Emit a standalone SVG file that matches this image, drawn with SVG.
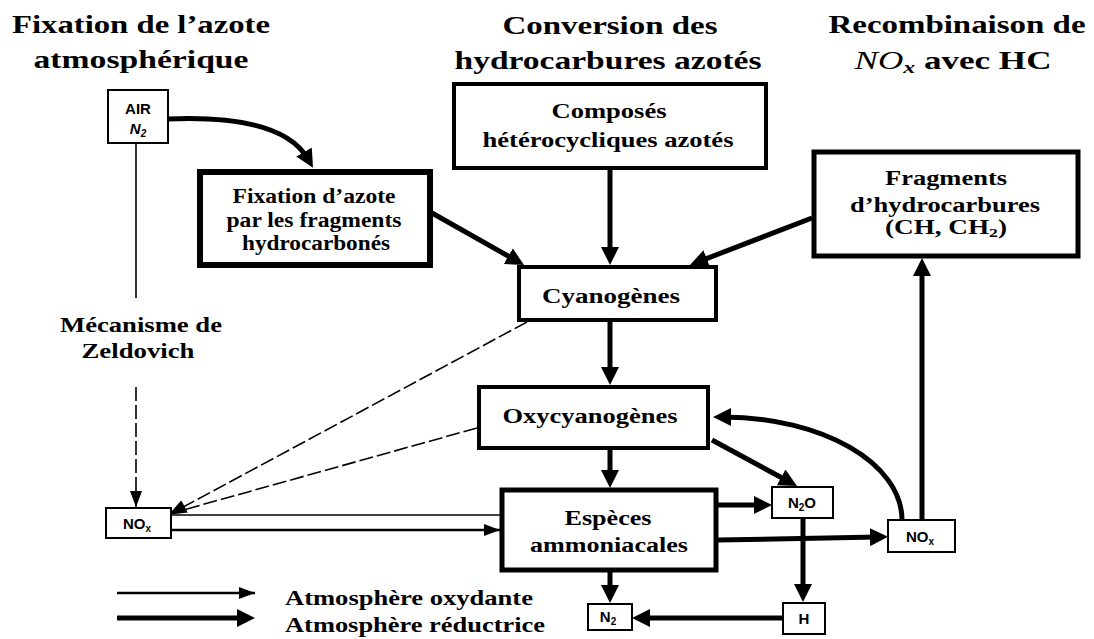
<svg xmlns="http://www.w3.org/2000/svg" width="1094" height="639" viewBox="0 0 1094 639">
<style>
.title{font-family:"Liberation Serif",serif;font-weight:bold;font-size:25px;fill:#000}
.lbl{font-family:"Liberation Serif",serif;font-weight:bold;font-size:20px;fill:#000}
.sm{font-family:"Liberation Sans",Arial,sans-serif;font-weight:bold;font-size:15px;fill:#000}
.box{fill:#fff;stroke:#000}
.thick{fill:none;stroke:#000;stroke-width:5}
.thin{fill:none;stroke:#000;stroke-width:1.6}
.dash{fill:none;stroke:#000;stroke-width:1.6;stroke-dasharray:14 4}
.med{fill:none;stroke:#000;stroke-width:2.5}
</style>
<defs>
<marker id="big" markerUnits="userSpaceOnUse" markerWidth="20" markerHeight="18" refX="8" refY="9" orient="auto">
<path d="M0,0 L18,9 L0,18 z" fill="#000"/>
</marker>
<marker id="small" markerUnits="userSpaceOnUse" markerWidth="18" markerHeight="14" refX="16" refY="6" orient="auto">
<path d="M0,0 L16,6 L0,12 z" fill="#000"/>
</marker>
<marker id="mid" markerUnits="userSpaceOnUse" markerWidth="20" markerHeight="16" refX="12" refY="7" orient="auto">
<path d="M0,0 L18,7 L0,14 z" fill="#000"/>
</marker>
</defs>
<rect width="1094" height="639" fill="#fff"/>

<g id="titles">
<text class="title" x="141" y="33" text-anchor="middle" textLength="258" lengthAdjust="spacingAndGlyphs">Fixation de l’azote</text>
<text class="title" x="141" y="68" text-anchor="middle" textLength="215" lengthAdjust="spacingAndGlyphs">atmosphérique</text>
<text class="title" x="610" y="34" text-anchor="middle" textLength="215" lengthAdjust="spacingAndGlyphs">Conversion des</text>
<text class="title" x="608" y="69" text-anchor="middle" textLength="307" lengthAdjust="spacingAndGlyphs">hydrocarbures azotés</text>
<text class="title" x="957" y="33" text-anchor="middle" textLength="257" lengthAdjust="spacingAndGlyphs">Recombinaison de</text>
<text class="title" x="953" y="69" text-anchor="middle" textLength="197" lengthAdjust="spacingAndGlyphs"><tspan font-style="italic" font-weight="normal">NO</tspan><tspan font-style="italic" font-size="17" dy="4">x</tspan><tspan dy="-4"> avec HC</tspan></text>
</g>

<g id="connectors">
<path class="thick" d="M168,119 C240,116 290,128 308,159" marker-end="url(#big)"/>
<path class="thick" d="M432,213 L515.3,260.1" marker-end="url(#big)"/>
<path class="thick" d="M610,170 L610,255" marker-end="url(#big)"/>
<path class="thick" d="M812,218 L699.3,261.4" marker-end="url(#big)"/>
<path class="thick" d="M610,322 L610,375" marker-end="url(#big)"/>
<path class="thick" d="M610,450 L610,478" marker-end="url(#big)"/>
<path class="thick" d="M610,572 L610,593" marker-end="url(#big)"/>
<path class="thick" d="M718,505 L762,505" marker-end="url(#big)"/>
<path class="thick" d="M712,440 L788.2,481.2" marker-end="url(#big)"/>
<path class="thick" d="M902,520 C902,463 822,417 723,417" marker-end="url(#big)"/>
<path class="thick" d="M922,520 L922,268" marker-end="url(#big)"/>
<path class="thick" d="M718,540 L878,537" marker-end="url(#big)"/>
<path class="thick" d="M803,518 L803,592" marker-end="url(#big)"/>
<path class="thick" d="M783,618 L642,618" marker-end="url(#big)"/>
<path class="thin" d="M136,143 L136,298"/>
<path class="dash" d="M136,387 L136,507" marker-end="url(#small)"/>
<path class="dash" d="M527,322 L174,512" marker-end="url(#mid)"/>
<path class="dash" d="M477,428 L176,512"/>
<path class="thin" d="M500,515 L171,515"/>
<path class="med" d="M171,530 L500,530" marker-end="url(#small)"/>
</g>

<g id="node-air">
<rect class="box" x="108" y="90" width="60" height="53" stroke-width="2"/>
<text class="sm" x="138" y="114" text-anchor="middle">AIR</text>
<text class="sm" x="138" y="134" text-anchor="middle" font-style="italic">N<tspan font-size="10" dy="3">2</tspan></text>
</g>

<g id="node-fixation">
<rect class="box" x="200" y="172" width="230" height="93" stroke-width="6"/>
<text class="lbl" x="314" y="203" text-anchor="middle" font-size="18" textLength="163" lengthAdjust="spacingAndGlyphs">Fixation d’azote</text>
<text class="lbl" x="314" y="227" text-anchor="middle" font-size="18" textLength="175" lengthAdjust="spacingAndGlyphs">par les fragments</text>
<text class="lbl" x="316" y="250" text-anchor="middle" font-size="18" textLength="148" lengthAdjust="spacingAndGlyphs">hydrocarbonés</text>
</g>

<g id="node-composes">
<rect class="box" x="454" y="84" width="312" height="84" stroke-width="4"/>
<text class="lbl" x="609" y="118" text-anchor="middle" textLength="115" lengthAdjust="spacingAndGlyphs">Composés</text>
<text class="lbl" x="608" y="147" text-anchor="middle" textLength="251" lengthAdjust="spacingAndGlyphs">hétérocycliques azotés</text>
</g>

<g id="node-fragments">
<rect class="box" x="814" y="152" width="264" height="104" stroke-width="5"/>
<text class="lbl" x="946" y="185" text-anchor="middle" textLength="122" lengthAdjust="spacingAndGlyphs">Fragments</text>
<text class="lbl" x="945" y="212" text-anchor="middle" textLength="190" lengthAdjust="spacingAndGlyphs">d’hydrocarbures</text>
<text class="lbl" x="946" y="234" text-anchor="middle" textLength="122" lengthAdjust="spacingAndGlyphs">(CH, CH<tspan font-size="13" dy="3">2</tspan><tspan dy="-3">)</tspan></text>
</g>

<g id="node-cyanogenes">
<rect class="box" x="519" y="267" width="197" height="53" stroke-width="4"/>
<text class="lbl" x="611" y="303" text-anchor="middle" textLength="138" lengthAdjust="spacingAndGlyphs">Cyanogènes</text>
</g>

<g id="node-oxycyanogenes">
<rect class="box" x="479" y="387" width="229" height="61" stroke-width="4"/>
<text class="lbl" x="590" y="423" text-anchor="middle" textLength="175" lengthAdjust="spacingAndGlyphs">Oxycyanogènes</text>
</g>

<g id="node-especes">
<rect class="box" x="502" y="490" width="214" height="80" stroke-width="5"/>
<text class="lbl" x="608" y="525" text-anchor="middle" textLength="87" lengthAdjust="spacingAndGlyphs">Espèces</text>
<text class="lbl" x="609" y="552" text-anchor="middle" textLength="158" lengthAdjust="spacingAndGlyphs">ammoniacales</text>
</g>

<g id="node-nox-left">
<rect class="box" x="106" y="508" width="65" height="30" stroke-width="2"/>
<text class="sm" x="137" y="529" text-anchor="middle">NO<tspan font-size="10" dy="3">x</tspan></text>
</g>

<g id="node-n2o">
<rect class="box" x="772" y="487" width="61" height="31" stroke-width="2"/>
<text class="sm" x="802" y="508" text-anchor="middle">N<tspan font-size="10" dy="3">2</tspan><tspan dy="-3">O</tspan></text>
</g>

<g id="node-nox-right">
<rect class="box" x="888" y="520" width="67" height="32" stroke-width="2"/>
<text class="sm" x="920" y="542" text-anchor="middle">NO<tspan font-size="10" dy="3">x</tspan></text>
</g>

<g id="node-h">
<rect class="box" x="783" y="603" width="42" height="31" stroke-width="2"/>
<text class="sm" x="804" y="624" text-anchor="middle">H</text>
</g>

<g id="node-n2">
<rect class="box" x="588" y="604" width="44" height="26" stroke-width="2"/>
<text class="sm" x="608" y="622" text-anchor="middle">N<tspan font-size="10" dy="3">2</tspan></text>
</g>

<g id="zeldovich">
<text class="lbl" x="141" y="332" text-anchor="middle" font-size="18" textLength="162" lengthAdjust="spacingAndGlyphs">Mécanisme de</text>
<text class="lbl" x="138" y="358" text-anchor="middle" font-size="18" textLength="113" lengthAdjust="spacingAndGlyphs">Zeldovich</text>
</g>

<g id="legend">
<path class="med" d="M117,593 L255,593" marker-end="url(#small)"/>
<path class="thick" d="M117,618 L245,618" marker-end="url(#big)"/>
<text class="lbl" x="285" y="605" textLength="248" lengthAdjust="spacingAndGlyphs">Atmosphère oxydante</text>
<text class="lbl" x="285" y="632" textLength="260" lengthAdjust="spacingAndGlyphs">Atmosphère réductrice</text>
</g>
</svg>
